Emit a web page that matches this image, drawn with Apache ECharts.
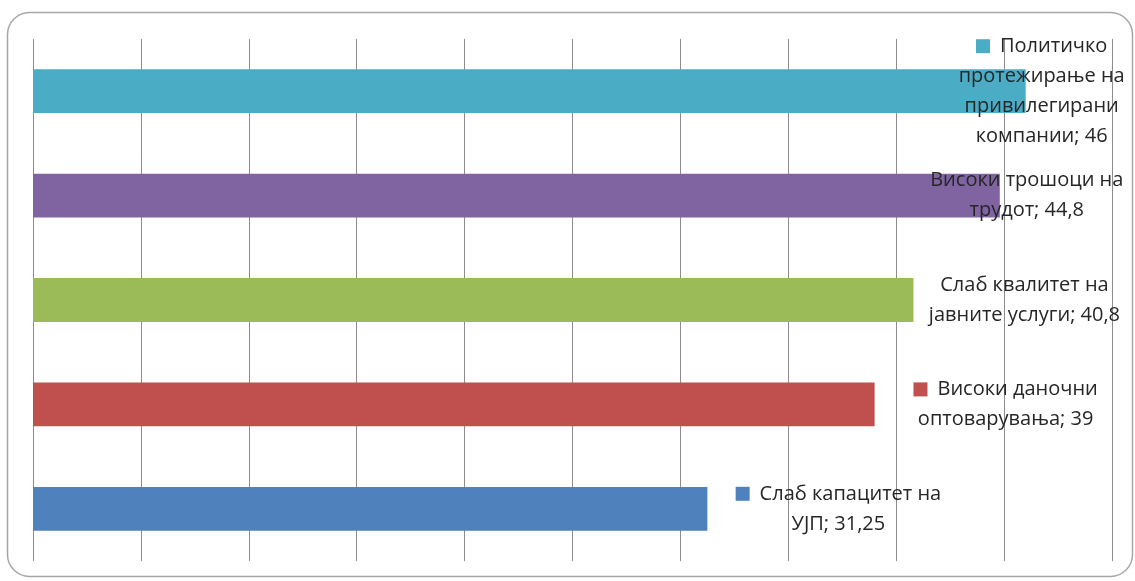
<!DOCTYPE html>
<html lang="mk">
  <head>
    <meta charset="UTF-8" />
    <title>Бариери</title>
    <script src="https://cdn.jsdelivr.net/npm/echarts@6/dist/echarts.min.js"></script>
    <style>
      html, body { margin: 0; padding: 0; background: #fff; }
    </style>
  </head>
  <body>
    <div id="main" style="width: 1135px; height: 581px"></div>
    <script type="text/javascript">
      // data, bottom to top
      const categories = [
        "Слаб капацитет на\nУЈП",
        "Високи даночни\nоптоварувања",
        "Слаб квалитет на\nјавните услуги",
        "Високи трошоци на\nтрудот",
        "Политичко\nпротежирање на\nпривилегирани\nкомпании"
      ];
      const values = [31.25, 39, 40.8, 44.8, 46];
      const valueLabels = ["31,25", "39", "40,8", "44,8", "46"];
      const colors = ["#4F81BD", "#C0504D", "#9BBB59", "#8064A2", "#4BACC6"];
      const showKey = [true, true, false, false, true];

      // label placement (x shift from bar end to label centre)
      const labelShift = [126, 126, 106, 22, 11];

      const seriesData = values.map((v, i) => ({
        value: v,
        itemStyle: { color: colors[i] },
        label: {
          offset: [labelShift[i], 0],
          rich: {
            k: { width: 14, height: 14, backgroundColor: colors[i] },
            g: { width: 10 }
          }
        }
      }));

      let myChart = echarts.init(document.getElementById("main"));
      myChart.setOption({
        animation: false,
        grid: { left: 33, right: 23, top: 39, bottom: 20, containLabel: false },
        graphic: [{
          type: "rect",
          shape: { x: 7.5, y: 12.5, width: 1125, height: 564, r: 22 },
          style: { fill: "none", stroke: "#a6a6a6", lineWidth: 1.5 },
          z: -1
        }],
        xAxis: {
          type: "value",
          min: 0, max: 50, interval: 5,
          axisLabel: { show: false },
          axisLine: { show: false },
          axisTick: { show: false },
          splitLine: { show: true, lineStyle: { color: "#8c8c8c", width: 1 } }
        },
        yAxis: {
          type: "category",
          data: categories,
          axisLabel: { show: false },
          axisLine: { show: false },
          axisTick: { show: false }
        },
        series: [{
          type: "bar",
          data: seriesData,
          barCategoryGap: "58%",
          label: {
            show: true,
            position: "right",
            align: "center",
            verticalAlign: "middle",
            fontFamily: "Open Sans",
            fontSize: 20,
            lineHeight: 30,
            color: "#262626",
            formatter: (p) => {
              const i = p.dataIndex;
              const txt = categories[i] + "; " + valueLabels[i];
              return showKey[i] ? "{k|}{g|}" + txt : txt;
            }
          }
        }]
      });
    </script>
  </body>
</html>
